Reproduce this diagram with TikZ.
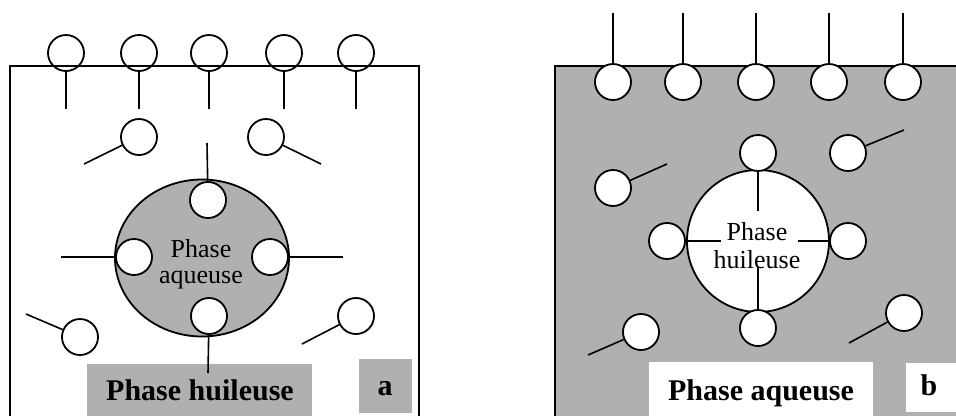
\documentclass[tikz,border=0pt]{standalone}
\usepackage{fontspec}
\setmainfont{Liberation Serif}
\usetikzlibrary{shapes.geometric}
\definecolor{tex}{gray}{0.69}
\begin{document}
\begin{tikzpicture}[x=0.75pt,y=-0.75pt,
  head/.style={circle,draw,line width=1.35pt,minimum size=27pt,inner sep=0pt},
  headw/.style={head,fill=white},
  tail/.style={line width=1.2pt},
  frame/.style={line width=1.5pt},
  lbl/.style={font=\fontsize{22.5}{24}\selectfont\bfseries,anchor=base,inner sep=0pt},
  intext/.style={font=\fontsize{19.5}{20}\selectfont,anchor=base,inner sep=0pt}]
\useasboundingbox (0,0) rectangle (956,415);
\clip (0,0) rectangle (956,415);

% ---------------- panel a ----------------
\draw[frame] (10,430) -- (10,66) -- (419,66) -- (419,430);
\fill[tex] (87,364) rectangle (312,420);
\fill[tex] (359,359) rectangle (412,413);
\node[lbl] (la) at (200,400) {Phase huileuse};
\node[lbl] (lta) at (385,395) {a};

\node[draw,ellipse,fill=tex,line width=1.35pt,minimum width=130.5pt,minimum height=117.75pt,inner sep=0pt] (A) at (202,258) {};
\node[intext] (Aa) at (201,257) {Phase};
\node[intext] (Ab) at (201,283) {aqueuse};

\foreach \i/\x in {1/66,2/139,3/209,4/284,5/356}{
  \node[head] (at\i) at (\x,53) {};
  \coordinate (ate\i) at (\x,109);
  \draw[tail] (at\i) -- (ate\i);
}
\node[head] (a6) at (139,137) {};
\coordinate (ae6) at (84,164);
\draw[tail] (a6) -- (ae6);
\node[head] (a7) at (266,137) {};
\coordinate (ae7) at (321,164);
\draw[tail] (a7) -- (ae7);
\node[head] (a8) at (80,337) {};
\coordinate (ae8) at (26,314);
\draw[tail] (a8) -- (ae8);
\node[head] (a9) at (356,316) {};
\coordinate (ae9) at (302,344);
\draw[tail] (a9) -- (ae9);

\node[headw] (aT) at (208,200) {};
\coordinate (aTe) at (207,143);
\draw[tail] (aT) -- (aTe);
\node[headw] (aL) at (134,257) {};
\coordinate (aLe) at (61,257);
\draw[tail] (aL) -- (aLe);
\node[headw] (aR) at (270,257) {};
\coordinate (aRe) at (343,257);
\draw[tail] (aR) -- (aRe);
\node[headw] (aB) at (209,316) {};
\coordinate (aBe) at (208,373);
\draw[tail] (aB) -- (aBe);

% ---------------- panel b ----------------
\fill[tex] (555,66) rectangle (970,430);
\draw[frame] (555,430) -- (555,66) -- (970,66);
\fill[white] (649,362) rectangle (873,420);
\fill[white] (906,363) rectangle (970,412);
\node[lbl] (lb) at (761,400) {Phase aqueuse};
\node[lbl] (ltb) at (929,395) {b};

\node[circle,draw,fill=white,line width=1.35pt,minimum size=106.5pt,inner sep=0pt] (B) at (758,241) {};
\node[intext] (Ba) at (757,240) {Phase};
\node[intext] (Bb) at (757,268) {huileuse};

\foreach \i/\x in {1/613,2/683,3/756,4/829,5/903}{
  \node[headw] (bt\i) at (\x,82) {};
  \coordinate (bte\i) at (\x,13);
  \draw[tail] (bt\i) -- (bte\i);
}
\node[headw] (b6) at (613,188) {};
\coordinate (be6) at (667,164);
\draw[tail] (b6) -- (be6);
\node[headw] (b7) at (848,153) {};
\coordinate (be7) at (904,130);
\draw[tail] (b7) -- (be7);
\node[headw] (b8) at (641,332) {};
\coordinate (be8) at (588,355);
\draw[tail] (b8) -- (be8);
\node[headw] (b9) at (904,313) {};
\coordinate (be9) at (849,343);
\draw[tail] (b9) -- (be9);

\node[headw] (bT) at (758,153) {};
\coordinate (bTe) at (758,211);
\draw[tail] (bT.south) -- (bTe);
\node[headw] (bL) at (667,241) {};
\coordinate (bLe) at (721,241);
\draw[tail] (bL.east) -- (bLe);
\node[headw] (bR) at (848,241) {};
\coordinate (bRe) at (798,241);
\draw[tail] (bR.west) -- (bRe);
\node[headw] (bB) at (758,328) {};
\coordinate (bBe) at (758,267);
\draw[tail] (bB.north) -- (bBe);
\end{tikzpicture}
\end{document}
